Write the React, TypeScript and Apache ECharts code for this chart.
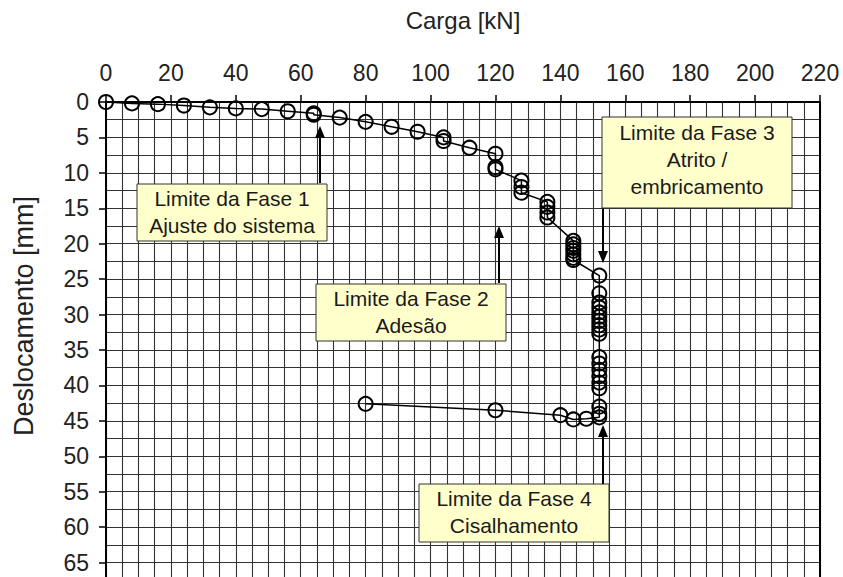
import React, { useEffect, useRef } from "react";
import * as echarts from "echarts";

// Load steps (kN) read in test order
const loadKN = [
  0, 8, 16, 24, 32, 40, 48, 56, 64, 64, 72, 80, 88, 96, 104, 104, 112,
  120, 120, 120, 128, 128, 128, 136, 136, 136, 136,
  144, 144, 144, 144, 144, 144, 144,
  152, 152, 152, 152, 152, 152, 152, 152, 152, 152,
  152, 152, 152, 152, 152, 152, 152, 152, 152,
  148, 144, 140, 120, 80,
];
// Displacement (mm) for each reading
const displacementMM = [
  0, 0.2, 0.3, 0.5, 0.75, 0.9, 1.0, 1.3, 1.6, 1.8, 2.2, 2.8, 3.5, 4.2, 5.0, 5.5, 6.45,
  7.3, 9.2, 9.5, 11.1, 12.0, 12.8, 14.1, 14.8, 15.6, 16.3,
  19.6, 20.1, 20.6, 21.0, 21.5, 22.0, 22.3,
  24.5, 27.0, 28.3, 29.0, 29.7, 30.3, 30.9, 31.5, 32.1, 32.7,
  36.0, 36.9, 37.8, 38.7, 39.6, 40.4, 43.0, 44.0, 44.5,
  44.7, 44.8, 44.2, 43.5, 42.6,
];

const xMin = 0;
const xMax = 220;
const xInterval = 20;
const yMin = 0;
const yMax = 70;
const yInterval = 5;
const yLastLabel = 65;

const xTitle = "Carga [kN]";
const yTitle = "Deslocamento [mm]";

const annotations = [
  { x: 137, y: 184, w: 190, h: 57, ty: 212, text: "Limite da Fase 1\nAjuste do sistema" },
  { x: 316, y: 284, w: 190, h: 57, ty: 312, text: "Limite da Fase 2\nAdesão" },
  { x: 602, y: 117, w: 190, h: 91, ty: 159, text: "Limite da Fase 3\nAtrito /\nembricamento" },
  { x: 419, y: 484, w: 190, h: 58, ty: 512, text: "Limite da Fase 4\nCisalhamento" },
];

const arrows = [
  { x: 320, from: 183, tip: 126 },
  { x: 499, from: 283, tip: 226 },
  { x: 603, from: 208, tip: 263 },
  { x: 603, from: 484, tip: 425 },
];

const FONT = "'Liberation Sans', Arial, Helvetica, sans-serif";

export default function App() {
  const ref = useRef<HTMLDivElement>(null);

  useEffect(() => {
    if (!ref.current) return;
    const chart = echarts.init(ref.current, undefined, { renderer: "svg" });

    const data = loadKN.map((v, i) => [v, displacementMM[i]]);

    const graphics: any[] = [];
    graphics.push({
      type: "text",
      x: 24,
      y: 316,
      rotation: Math.PI / 2,
      style: {
        text: yTitle,
        fontSize: 27,
        fontFamily: FONT,
        fill: "#222",
        align: "center",
        verticalAlign: "middle",
      },
      z: 10,
    });
    arrows.forEach((a) => {
      const dir = a.tip < a.from ? -1 : 1;
      const headLen = 12;
      const headW = 5;
      graphics.push({
        type: "line",
        shape: { x1: a.x, y1: a.from, x2: a.x, y2: a.tip - dir * headLen },
        style: { stroke: "#000", lineWidth: 2 },
        z: 20,
      });
      graphics.push({
        type: "polygon",
        shape: {
          points: [
            [a.x, a.tip],
            [a.x - headW, a.tip - dir * headLen],
            [a.x + headW, a.tip - dir * headLen],
          ],
        },
        style: { fill: "#000" },
        z: 20,
      });
    });
    annotations.forEach((b) => {
      graphics.push({
        type: "rect",
        shape: { x: b.x, y: b.y, width: b.w, height: b.h },
        style: { fill: "#FFFFCC", stroke: "#333", lineWidth: 1 },
        z: 30,
      });
      graphics.push({
        type: "text",
        x: b.x + b.w / 2,
        y: b.ty,
        style: {
          text: b.text,
          fontSize: 21,
          lineHeight: 27,
          fontFamily: FONT,
          fill: "#1a1a1a",
          align: "center",
          verticalAlign: "middle",
        },
        z: 31,
      });
    });

    const gridLine = { show: true, lineStyle: { color: "#333", width: 1.1 } };

    chart.setOption({
      animation: false,
      backgroundColor: "#ffffff",
      grid: { left: 106, right: 23, top: 102, bottom: 0, containLabel: false },
      xAxis: {
        type: "value",
        position: "top",
        min: xMin,
        max: xMax,
        interval: xInterval,
        name: xTitle,
        nameLocation: "middle",
        nameGap: 70,
        nameTextStyle: { fontSize: 24, color: "#222", fontFamily: FONT },
        axisLine: { show: true, onZero: false, lineStyle: { color: "#000", width: 2 } },
        axisTick: { show: true, length: 7, lineStyle: { color: "#000", width: 1.5 } },
        axisLabel: { fontSize: 23, color: "#222", margin: 18, fontFamily: FONT },
        splitLine: gridLine,
        minorTick: { show: false, splitNumber: 4 },
        minorSplitLine: gridLine,
      },
      yAxis: [
        {
          type: "value",
          inverse: true,
          min: yMin,
          max: yMax,
          interval: yInterval,
          axisLine: { show: true, onZero: false, lineStyle: { color: "#000", width: 2 } },
          axisTick: { show: true, length: 7, lineStyle: { color: "#000", width: 1.5 } },
          axisLabel: {
            fontSize: 23,
            color: "#222",
            margin: 17,
            fontFamily: FONT,
            formatter: (v: number) => (v <= yLastLabel ? String(v) : ""),
          },
          splitLine: gridLine,
          minorTick: { show: false, splitNumber: 2 },
          minorSplitLine: gridLine,
        },
        {
          type: "value",
          inverse: true,
          position: "right",
          min: yMin,
          max: yMax,
          interval: yInterval,
          axisLine: { show: true, onZero: false, lineStyle: { color: "#000", width: 2 } },
          axisTick: { show: false },
          axisLabel: { show: false },
          splitLine: { show: false },
        },
      ],
      series: [
        {
          type: "line",
          data,
          xAxisIndex: 0,
          yAxisIndex: 0,
          symbol: "circle",
          symbolSize: 14,
          showAllSymbol: true,
          lineStyle: { color: "#000", width: 1.5 },
          itemStyle: { color: "rgba(0,0,0,0)", borderColor: "#000", borderWidth: 2 },
          emphasis: { disabled: true },
          z: 5,
        },
      ],
      graphic: graphics,
    });

    return () => chart.dispose();
  }, []);

  return (
    <div
      ref={ref}
      style={{ position: "fixed", left: 0, top: 0, width: 843, height: 598, background: "#fff" }}
    />
  );
}
